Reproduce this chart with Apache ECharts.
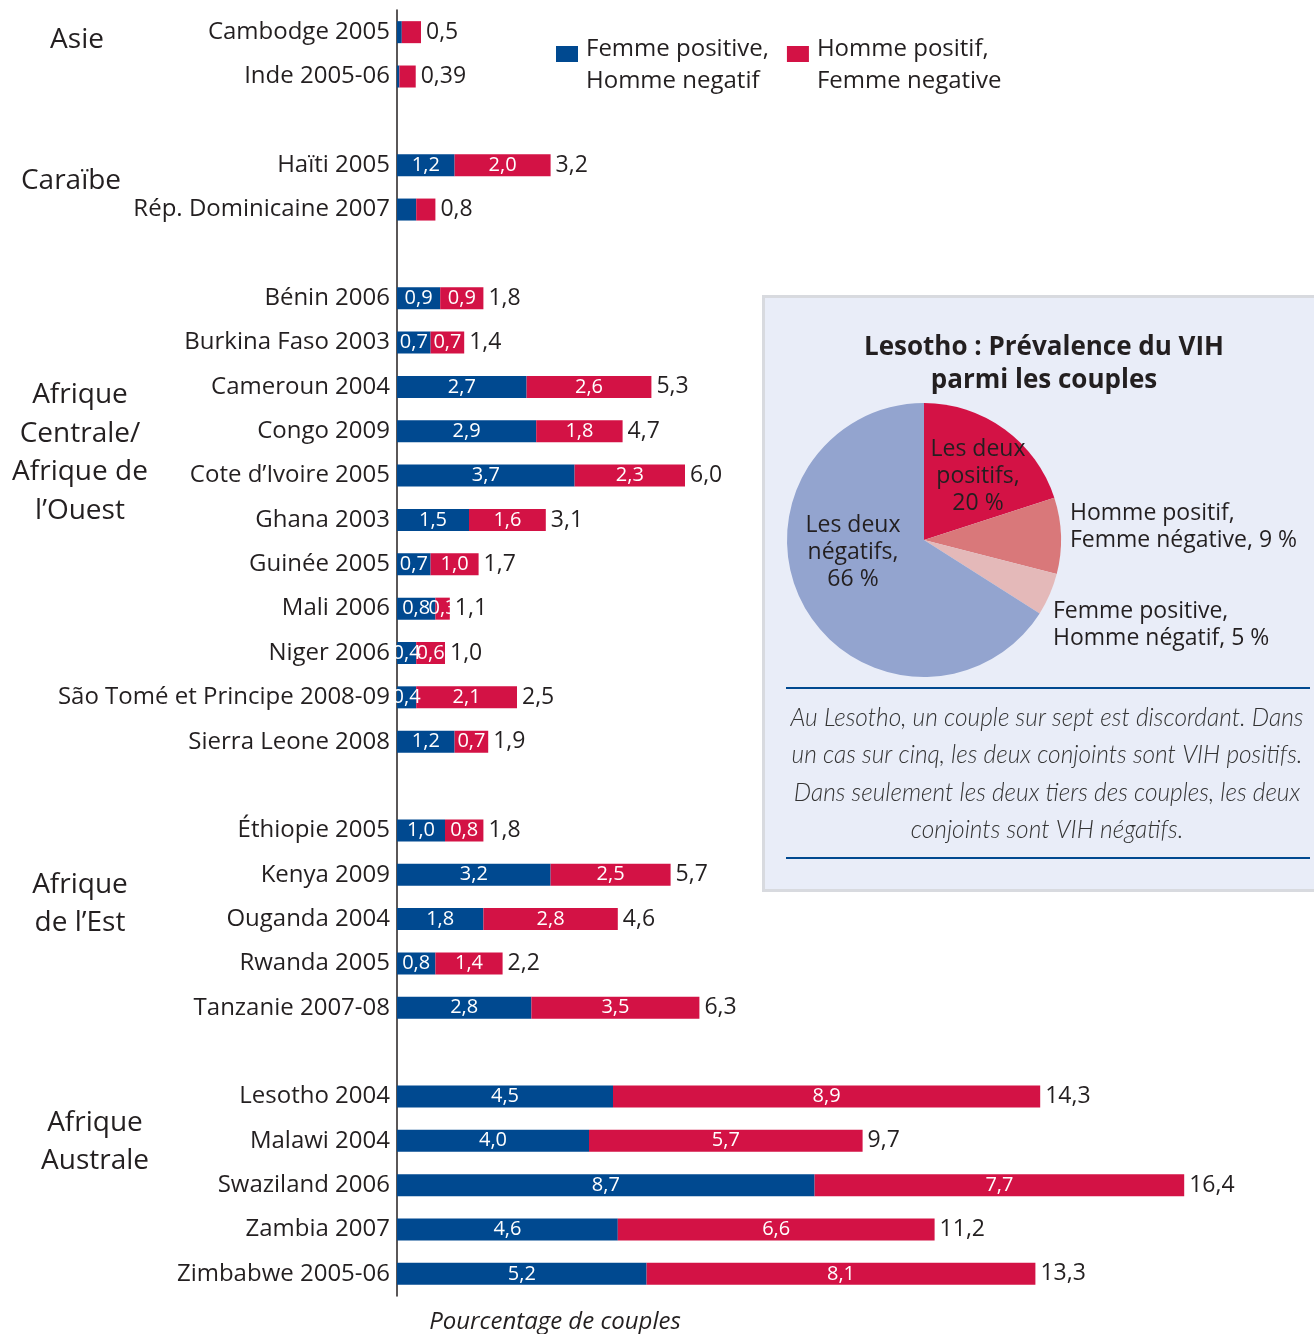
<!DOCTYPE html>
<html>
<head>
<meta charset="utf-8">
<script src="https://cdn.jsdelivr.net/npm/echarts@6/dist/echarts.min.js"></script>
<style>
  html, body { margin: 0; padding: 0; background: #ffffff; }
  #chart { width: 1314px; height: 1334px; }
</style>
</head>
<body>
<div id="chart"></div>
<script>
// Rows of the bar chart, top to bottom; whitespace-only entries are spacer rows between regions
const categories = [
  'Cambodge 2005', 'Inde 2005-06', ' ',
  'Haïti 2005', 'Rép. Dominicaine 2007', '  ',
  'Bénin 2006', 'Burkina Faso 2003', 'Cameroun 2004', 'Congo 2009', 'Cote d’Ivoire 2005',
  'Ghana 2003', 'Guinée 2005', 'Mali 2006', 'Niger 2006', 'São Tomé et Principe 2008-09',
  'Sierra Leone 2008', '   ',
  'Éthiopie 2005', 'Kenya 2009', 'Ouganda 2004', 'Rwanda 2005', 'Tanzanie 2007-08', '    ',
  'Lesotho 2004', 'Malawi 2004', 'Swaziland 2006', 'Zambia 2007', 'Zimbabwe 2005-06'
];

// Femme positive, homme négatif (%)
const femmePositive = [
  0.1, 0.05, null,
  1.2, 0.4, null,
  0.9, 0.7, 2.7, 2.9, 3.7, 1.5, 0.7, 0.8, 0.4, 0.4, 1.2, null,
  1.0, 3.2, 1.8, 0.8, 2.8, null,
  4.5, 4.0, 8.7, 4.6, 5.2
];

// Homme positif, femme négative (%)
const hommePositif = [
  0.4, 0.34, null,
  2.0, 0.4, null,
  0.9, 0.7, 2.6, 1.8, 2.3, 1.6, 1.0, 0.3, 0.6, 2.1, 0.7, null,
  0.8, 2.5, 2.8, 1.4, 3.5, null,
  8.9, 5.7, 7.7, 6.6, 8.1
];

// Total printed after each bar
const totalLabels = [
  '0,5', '0,39', '',
  '3,2', '0,8', '',
  '1,8', '1,4', '5,3', '4,7', '6,0', '3,1', '1,7', '1,1', '1,0', '2,5', '1,9', '',
  '1,8', '5,7', '4,6', '2,2', '6,3', '',
  '14,3', '9,7', '16,4', '11,2', '13,3'
];

// Rows whose segments carry no value inside the bar
const rowsWithoutSegmentLabels = ['Cambodge 2005', 'Inde 2005-06', 'Rép. Dominicaine 2007'];

// Region names shown at the left
const regionNames = ['Asie', 'Caraïbe', 'Afrique\nCentrale/\nAfrique de\nl’Ouest', 'Afrique\nde l’Est', 'Afrique\nAustrale'];

// Lesotho inset pie
const pieNames = ['Les deux\npositifs,\n20 %', 'Homme positif,\nFemme négative, 9 %', 'Femme positive,\nHomme négatif, 5 %', 'Les deux\nnégatifs,\n66 %'];
const pieValues = [20, 9, 5, 66];

const seriesNames = ['Femme positive, Homme negatif', 'Homme positif, Femme negative'];
const pieTitle = 'Lesotho : Prévalence du VIH\nparmi les couples';
const pieCaption = [
  'Au Lesotho, un couple sur sept est discordant. Dans',
  'un cas sur cinq, les deux conjoints sont VIH positifs.',
  'Dans seulement les deux tiers des couples, les deux',
  'conjoints sont VIH négatifs.'
];
const axisName = 'Pourcentage de couples';

const FONT = '"Open Sans", "Noto Sans", sans-serif';
const INK = '#231f20';
const BLUE = '#004990';
const RED = '#d31245';
const PIE_COLORS = ['#d31245', '#d9787a', '#e4b9b9', '#93a4cf'];

const fmt = v => v.toFixed(1).replace('.', ',');

function segmentData(values) {
  return values.map((v, i) => {
    if (v == null) return null;
    if (rowsWithoutSegmentLabels.indexOf(categories[i]) >= 0) {
      return { value: v, label: { show: false } };
    }
    return v;
  });
}

const segmentLabel = {
  show: true,
  position: 'inside',
  color: '#ffffff',
  fontFamily: FONT,
  fontSize: 20,
  formatter: p => fmt(p.value)
};

const chart = echarts.init(document.getElementById('chart'), null, { renderer: 'canvas' });

// Pie placement inside the inset panel
const pieCx = 924, pieCy = 540, pieR = 137;
const pieLabelSpots = [
  { dx: 54, dy: -64, align: 'center' },
  { dx: 146, dy: -13, align: 'left' },
  { dx: 129, dy: 85, align: 'left' },
  { dx: -71, dy: 12, align: 'center' }
];

const option = {
  animation: false,
  backgroundColor: '#ffffff',
  grid: { left: 397, right: 53, top: 10, bottom: 38, containLabel: false },
  legend: {
    data: seriesNames,
    left: 556,
    top: 17,
    padding: 0,
    itemWidth: 22,
    itemHeight: 16,
    itemGap: 18,
    icon: 'rect',
    selectedMode: false,
    // a short spacer line above the two text lines keeps the square beside the first line
    formatter: name => '{g| }\n{t|' + name.split(', ').join(',}\n{t|') + '}',
    textStyle: {
      color: INK,
      fontFamily: FONT,
      fontSize: 24,
      rich: {
        g: { fontSize: 10, lineHeight: 22 },
        t: { color: INK, fontFamily: FONT, fontSize: 24, lineHeight: 32, padding: [0, 0, 0, 3] }
      }
    }
  },
  xAxis: {
    type: 'value',
    min: 0,
    max: 18,
    show: false
  },
  yAxis: {
    type: 'category',
    data: categories,
    inverse: true,
    axisLine: { show: true, lineStyle: { color: INK, width: 1.5 } },
    axisTick: { show: false },
    splitLine: { show: false },
    axisLabel: {
      color: INK,
      fontFamily: FONT,
      fontSize: 24,
      margin: 7,
      interval: 0
    }
  },
  series: [
    {
      name: seriesNames[0],
      type: 'bar',
      stack: 'couples',
      barWidth: 22,
      itemStyle: { color: BLUE },
      label: segmentLabel,
      data: segmentData(femmePositive)
    },
    {
      name: seriesNames[1],
      type: 'bar',
      stack: 'couples',
      barWidth: 22,
      itemStyle: { color: RED },
      label: segmentLabel,
      data: segmentData(hommePositif)
    },
    {
      // zero-width cap on each stack carrying the printed total
      name: 'total',
      type: 'bar',
      stack: 'couples',
      barWidth: 22,
      itemStyle: { color: 'rgba(0,0,0,0)' },
      label: {
        show: true,
        position: 'right',
        distance: 5,
        color: INK,
        fontFamily: FONT,
        fontSize: 23,
        formatter: p => totalLabels[p.dataIndex]
      },
      data: totalLabels.map(t => (t === '' ? null : 0))
    },
    {
      name: 'Lesotho',
      type: 'pie',
      center: [pieCx, pieCy],
      radius: pieR,
      startAngle: 90,
      clockwise: true,
      z: 5,
      silent: true,
      label: {
        show: true,
        position: 'inside',
        color: INK,
        fontFamily: FONT,
        fontSize: 23,
        lineHeight: 27,
        formatter: p => p.name
      },
      labelLine: { show: false },
      labelLayout: p => {
        const s = pieLabelSpots[p.dataIndex];
        return { x: pieCx + s.dx, y: pieCy + s.dy, align: s.align, verticalAlign: 'middle' };
      },
      data: pieNames.map((n, i) => ({ name: n, value: pieValues[i], itemStyle: { color: PIE_COLORS[i] } }))
    }
  ],
  graphic: [
    // inset panel
    {
      type: 'rect', z: 0,
      shape: { x: 763.5, y: 296.5, width: 600, height: 594 },
      style: { fill: '#e9edf8', stroke: '#d8dadf', lineWidth: 3 }
    },
    {
      type: 'text', z: 10, x: 1044, y: 364,
      style: {
        text: pieTitle, fill: INK, align: 'center', verticalAlign: 'middle',
        fontFamily: FONT, fontWeight: 'bold', fontSize: 26, lineHeight: 33
      }
    },
    {
      type: 'line', z: 10,
      shape: { x1: 786, y1: 688, x2: 1310, y2: 688 },
      style: { stroke: BLUE, lineWidth: 2 }
    },
    {
      type: 'line', z: 10,
      shape: { x1: 786, y1: 858, x2: 1310, y2: 858 },
      style: { stroke: BLUE, lineWidth: 2 }
    },
    {
      type: 'text', z: 10, x: 1047, y: 774,
      style: {
        text: pieCaption.join('\n'), fill: '#333333', align: 'center', verticalAlign: 'middle',
        fontFamily: 'Lato, "Open Sans", sans-serif', fontStyle: 'italic', fontWeight: 300,
        fontSize: 24.5, lineHeight: 37.5
      }
    },
    // region names
    {
      type: 'text', z: 10, x: 77, y: 40,
      style: { text: regionNames[0], fill: INK, align: 'center', verticalAlign: 'middle', fontFamily: FONT, fontSize: 28, lineHeight: 38.5 }
    },
    {
      type: 'text', z: 10, x: 71, y: 181,
      style: { text: regionNames[1], fill: INK, align: 'center', verticalAlign: 'middle', fontFamily: FONT, fontSize: 28, lineHeight: 38.5 }
    },
    {
      type: 'text', z: 10, x: 80, y: 453,
      style: { text: regionNames[2], fill: INK, align: 'center', verticalAlign: 'middle', fontFamily: FONT, fontSize: 28, lineHeight: 38.5 }
    },
    {
      type: 'text', z: 10, x: 80, y: 904,
      style: { text: regionNames[3], fill: INK, align: 'center', verticalAlign: 'middle', fontFamily: FONT, fontSize: 28, lineHeight: 38.5 }
    },
    {
      type: 'text', z: 10, x: 95, y: 1142,
      style: { text: regionNames[4], fill: INK, align: 'center', verticalAlign: 'middle', fontFamily: FONT, fontSize: 28, lineHeight: 38.5 }
    },
    // axis caption under the bars
    {
      type: 'text', z: 10, x: 555, y: 1322,
      style: { text: axisName, fill: INK, align: 'center', verticalAlign: 'middle', fontFamily: FONT, fontStyle: 'italic', fontSize: 24 }
    }
  ]
};

chart.setOption(option);
</script>
</body>
</html>
